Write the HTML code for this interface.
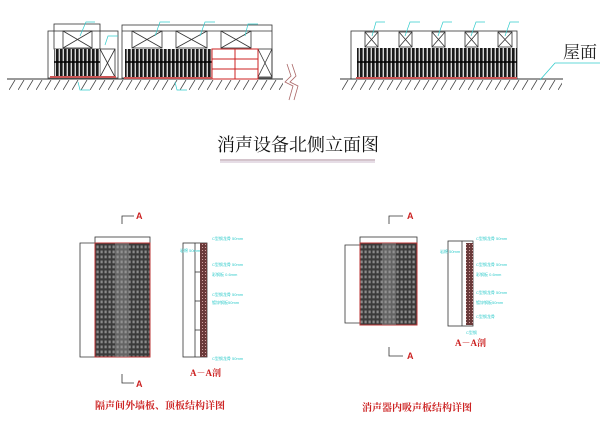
<!DOCTYPE html>
<html><head><meta charset="utf-8"><style>
html,body{margin:0;padding:0;background:#fff;width:600px;height:421px;overflow:hidden}
svg{display:block}
</style></head><body>
<svg width="600" height="421" viewBox="0 0 600 421" xmlns="http://www.w3.org/2000/svg" font-family="Liberation Sans, Noto Sans CJK SC, sans-serif">
<defs>
<pattern id="louv" width="4" height="30" patternUnits="userSpaceOnUse">
<rect width="4" height="30" fill="#d8d8d8"/><rect width="2.6" height="30" fill="#1a1a1a"/>
</pattern>
<pattern id="hatch" width="9" height="10" patternUnits="userSpaceOnUse">
<line x1="0" y1="10" x2="6" y2="0" stroke="#444" stroke-width="0.8"/>
</pattern>
<pattern id="grid" width="4" height="5" patternUnits="userSpaceOnUse">
<rect width="4" height="5" fill="#3a3a3a"/><rect x="0.5" y="0.5" width="2.2" height="2.8" fill="#8a8a8a"/>
</pattern>
<pattern id="brick" width="3" height="3" patternUnits="userSpaceOnUse">
<rect width="3" height="3" fill="#6a3a3a"/><rect x="1" y="1" width="1" height="1" fill="#d0a0a0"/>
</pattern>
</defs>

<line x1="7" y1="79" x2="283" y2="79" stroke="#333" stroke-width="1"/>
<rect x="7" y="80" width="276" height="10" fill="url(#hatch)"/>
<line x1="340" y1="79" x2="563" y2="79" stroke="#333" stroke-width="1"/>
<rect x="340" y="80" width="222" height="10" fill="url(#hatch)"/>
<path d="M287 64 L291 76 L285 82 L293 86 L289 100 M292 64 L296 76 L290 82 L298 86 L294 100" stroke="#a66" fill="none" stroke-width="0.8"/>

<g stroke="#333" stroke-width="0.8" fill="none">
<rect x="48" y="31" width="70" height="47"/>
<rect x="54" y="24" width="46" height="25"/>
<rect x="63" y="31" width="29" height="17"/><path d="M63 31 L92 48 M92 31 L63 48"/>
<rect x="100" y="49" width="15" height="28"/><path d="M100 49 L115 77 M115 49 L100 77"/>
</g>
<rect x="54" y="49" width="46" height="27" fill="url(#louv)"/>
<line x1="54" y1="62" x2="100" y2="62" stroke="#000" stroke-width="1.5"/>
<rect x="50" y="76" width="66" height="2" fill="#c55"/>

<g stroke="#333" stroke-width="0.8" fill="none">
<rect x="122" y="25" width="150" height="53"/>
<line x1="122" y1="31" x2="272" y2="31"/>
<rect x="132" y="31" width="30" height="17"/><path d="M132 31 L162 48 M162 31 L132 48"/>
<rect x="176" y="31" width="31" height="17"/><path d="M176 31 L207 48 M207 31 L176 48"/>
<rect x="221" y="31" width="30" height="17"/><path d="M221 31 L251 48 M251 31 L221 48"/>
<rect x="258" y="49" width="14" height="28"/><path d="M258 49 L272 77 M272 49 L258 77"/>
</g>
<rect x="125" y="49" width="87" height="28" fill="url(#louv)"/>
<line x1="125" y1="62" x2="212" y2="62" stroke="#000" stroke-width="1.5"/>
<g stroke="#c22" stroke-width="1" fill="#fff">
<rect x="212" y="49" width="46" height="30"/>
<line x1="235" y1="49" x2="235" y2="79"/><line x1="212" y1="59" x2="258" y2="59"/><line x1="212" y1="69" x2="258" y2="69"/>
</g>
<rect x="124" y="77" width="88" height="2" fill="#c55"/>

<g stroke="#333" stroke-width="0.8" fill="none">
<rect x="351" y="31" width="166" height="48"/>
<rect x="365" y="32" width="13" height="15"/><path d="M365 32 L378 47 M378 32 L365 47"/>
<rect x="399" y="32" width="13" height="15"/><path d="M399 32 L412 47 M412 32 L399 47"/>
<rect x="432" y="32" width="13" height="15"/><path d="M432 32 L445 47 M445 32 L432 47"/>
<rect x="465" y="32" width="13" height="15"/><path d="M465 32 L478 47 M478 32 L465 47"/>
<rect x="498" y="32" width="14" height="15"/><path d="M498 32 L512 47 M512 32 L498 47"/>
</g>
<rect x="357" y="48" width="160" height="29" fill="url(#louv)"/>
<line x1="357" y1="62" x2="517" y2="62" stroke="#000" stroke-width="1.5"/>
<rect x="356" y="77" width="161" height="2" fill="#c55"/>
<path d="M540 80 L555 63 L600 63" stroke="#3cc" stroke-width="0.8" fill="none"/>
<text x="563" y="58" font-size="17" fill="#222" font-family="Liberation Serif, Noto Serif CJK SC, serif">屋面</text>

<g stroke="#3cc" stroke-width="0.7" fill="none">
<path d="M80 36 L86 22 L95 22 M155 36 L160 22 L170 22 M200 36 L205 22 L215 22 M245 36 L248 24 L258 24 M105 45 L108 36 L118 36 M78 82 L80 90 L90 90 M175 82 L177 90 L187 90"/>
<path d="M372 36 L376 22 L385 22 M405 36 L410 22 L420 22 M438 36 L443 22 L452 22 M471 36 L476 22 L485 22 M505 36 L510 22 L519 22"/>
</g>

<text x="298" y="151" font-size="18" text-anchor="middle" fill="#111" font-family="Liberation Serif, Noto Serif CJK SC, serif">消声设备北侧立面图</text>
<line x1="220" y1="160" x2="375" y2="160" stroke="#a89" stroke-width="1"/>
<line x1="220" y1="162" x2="375" y2="162" stroke="#cbc" stroke-width="1"/>

<g stroke="#333" stroke-width="0.8" fill="none">
<path d="M122 224 L122 216 L134 216"/><path d="M122 374 L122 383 L134 383"/>
<rect x="95" y="237" width="55" height="6"/>
<path d="M95 243 L80 243 L80 357 L95 357"/>
<rect x="183" y="243" width="24" height="114"/>
<line x1="195" y1="243" x2="195" y2="357"/>
<line x1="195" y1="272" x2="200" y2="272"/><line x1="195" y1="301" x2="200" y2="301"/><line x1="195" y1="330" x2="200" y2="330"/>
</g>
<text x="136" y="219" font-size="9" fill="#c22" font-weight="bold">A</text>
<text x="136" y="387" font-size="9" fill="#c22" font-weight="bold">A</text>
<rect x="95" y="243" width="55" height="114" fill="url(#grid)" stroke="#b33" stroke-width="1"/>
<rect x="115" y="243" width="14" height="114" fill="#999" opacity="0.45"/>
<rect x="200" y="243" width="7" height="114" fill="url(#brick)"/>
<g fill="#3cc" font-size="4">
<text x="212" y="240">C型钢龙骨 50mm</text><text x="180" y="252">岩棉 50mm</text><text x="212" y="266">C型钢龙骨 50mm</text><text x="212" y="276">彩钢板 0.6mm</text><text x="212" y="296">C型钢龙骨 50mm</text><text x="212" y="304">镀锌钢板50mm</text><text x="212" y="360">C型钢龙骨 50mm</text>
</g>
<text x="190" y="376" font-size="9" fill="#c22" font-weight="bold" font-family="Liberation Serif, Noto Serif CJK SC, serif">A－A剖</text>
<text x="160" y="409" font-size="10" fill="#c22" font-weight="bold" text-anchor="middle" font-family="Liberation Serif, Noto Serif CJK SC, serif">隔声间外墙板、顶板结构详图</text>

<g stroke="#333" stroke-width="0.8" fill="none">
<path d="M389 224 L389 216 L403 216"/><path d="M389 347 L389 356 L403 356"/>
<rect x="360" y="237" width="57" height="6"/>
<path d="M360 245 L345 245 L345 323 L360 323"/>
<rect x="448" y="241" width="25" height="85"/>
<line x1="462" y1="241" x2="462" y2="326"/>
</g>
<text x="407" y="219" font-size="9" fill="#c22" font-weight="bold">A</text>
<text x="407" y="359" font-size="9" fill="#c22" font-weight="bold">A</text>
<rect x="360" y="243" width="57" height="82" fill="url(#grid)" stroke="#b33" stroke-width="1"/>
<rect x="382" y="243" width="14" height="82" fill="#999" opacity="0.45"/>
<rect x="466" y="243" width="7" height="82" fill="url(#brick)"/>
<g fill="#3cc" font-size="4">
<text x="476" y="240">C型钢龙骨 50mm</text><text x="440" y="253">岩棉 50mm</text><text x="476" y="266">C型钢龙骨 50mm</text><text x="476" y="276">彩钢板 0.6mm</text><text x="476" y="294">C型钢龙骨 50mm</text><text x="476" y="304">镀锌钢板50mm</text><text x="476" y="318">C型钢龙骨</text><text x="466" y="334">C型钢</text>
</g>
<text x="455" y="346" font-size="9" fill="#c22" font-weight="bold" font-family="Liberation Serif, Noto Serif CJK SC, serif">A－A剖</text>
<text x="417" y="411" font-size="10" fill="#c22" font-weight="bold" text-anchor="middle" font-family="Liberation Serif, Noto Serif CJK SC, serif">消声器内吸声板结构详图</text>
</svg>
</body></html>
